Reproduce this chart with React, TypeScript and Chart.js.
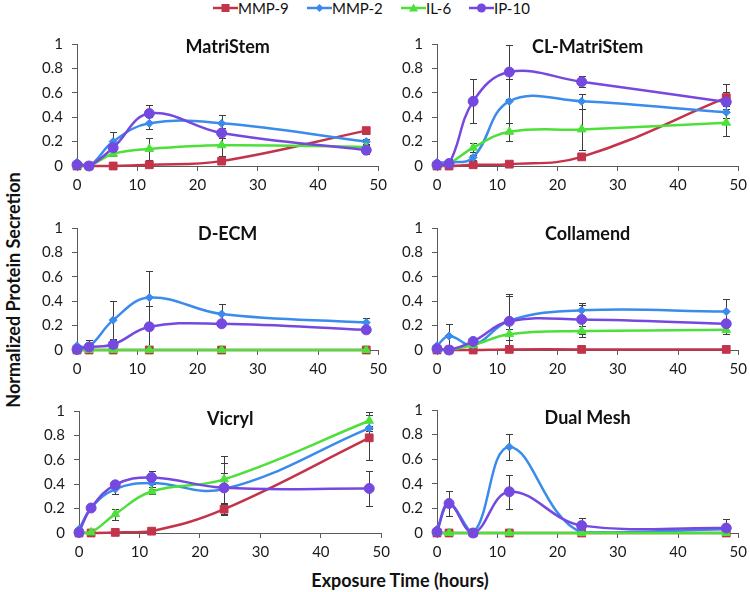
import React, { useEffect, useRef } from 'react';
import { Chart, registerables } from 'chart.js';
Chart.register(...registerables);

// ---------- data ----------
const hours = [0, 2, 6, 12, 24, 48];
const seriesNames = ['MMP-9', 'MMP-2', 'IL-6', 'IP-10'];
const panelTitles = ['MatriStem', 'CL-MatriStem', 'D-ECM', 'Collamend', 'Vicryl', 'Dual Mesh'];
const xTickValues = [0, 10, 20, 30, 40, 50];
const yTickValues = [0, 0.2, 0.4, 0.6, 0.8, 1];
const xAxisTitle = 'Exposure Time (hours)';
const yAxisTitle = 'Normalized Protein Secretion';

// MatriStem
const matriStemMMP9 = [0, 0, 0, 0.01, 0.04, 0.29];
const matriStemMMP2 = [0.03, 0, 0.2, 0.35, 0.35, 0.2];
const matriStemIL6 = [0, 0, 0.1, 0.14, 0.17, 0.155];
const matriStemIP10 = [0.01, 0, 0.15, 0.43, 0.27, 0.13];
const matriStemMMP9Err = [0, 0, 0, 0, 0, 0.02];
const matriStemMMP2Err = [0, 0, 0.08, 0.05, 0.07, 0.02];
const matriStemIL6Err = [0, 0, 0.02, 0.09, 0.09, 0.02];
const matriStemIP10Err = [0, 0, 0.03, 0.07, 0.04, 0.03];

// CL-MatriStem
const clMatriStemMMP9 = [0, 0, 0.01, 0.015, 0.075, 0.56];
const clMatriStemMMP2 = [0.03, 0.03, 0.07, 0.53, 0.53, 0.44];
const clMatriStemIL6 = [0, 0.02, 0.15, 0.28, 0.3, 0.355];
const clMatriStemIP10 = [0.01, 0.02, 0.53, 0.77, 0.69, 0.525];
const clMatriStemMMP9Err = [0, 0, 0, 0, 0, 0.11];
const clMatriStemMMP2Err = [0, 0.03, 0.02, 0.18, 0.06, 0.05];
const clMatriStemIL6Err = [0, 0, 0.035, 0.075, 0.165, 0.11];
const clMatriStemIP10Err = [0, 0.02, 0.18, 0.22, 0.045, 0.085];

// D-ECM
const decmMMP9 = [0, 0, 0, 0, 0, 0];
const decmMMP2 = [0.035, 0.03, 0.245, 0.43, 0.295, 0.225];
const decmIL6 = [0, 0, 0, 0, 0, 0];
const decmIP10 = [0.005, 0.025, 0.045, 0.19, 0.215, 0.165];
const decmMMP9Err = [0, 0, 0, 0, 0, 0];
const decmMMP2Err = [0, 0.05, 0.155, 0.22, 0.085, 0.04];
const decmIL6Err = [0, 0, 0, 0, 0, 0];
const decmIP10Err = [0, 0.02, 0.04, 0.17, 0.02, 0.01];

// Collamend
const collamendMMP9 = [0, 0, 0, 0.005, 0.005, 0.005];
const collamendMMP2 = [0.035, 0.115, 0.04, 0.24, 0.325, 0.315];
const collamendIL6 = [0, 0, 0.04, 0.13, 0.155, 0.165];
const collamendIP10 = [0.01, 0, 0.07, 0.235, 0.25, 0.215];
const collamendMMP9Err = [0, 0, 0, 0, 0, 0];
const collamendMMP2Err = [0, 0.095, 0.02, 0.22, 0.06, 0.105];
const collamendIL6Err = [0, 0, 0.01, 0.045, 0.045, 0.035];
const collamendIP10Err = [0, 0, 0.01, 0.21, 0.115, 0.03];

// Vicryl
const vicrylMMP9 = [0, 0, 0.005, 0.015, 0.195, 0.78];
const vicrylMMP2 = [0.03, 0.205, 0.36, 0.41, 0.36, 0.86];
const vicrylIL6 = [0, 0.005, 0.155, 0.34, 0.44, 0.92];
const vicrylIP10 = [0.005, 0.205, 0.395, 0.455, 0.37, 0.365];
const vicrylMMP9Err = [0, 0, 0, 0.01, 0.04, 0.185];
const vicrylMMP2Err = [0, 0.01, 0.04, 0.03, 0.21, 0.02];
const vicrylIL6Err = [0, 0, 0.045, 0.02, 0.195, 0.07];
const vicrylIP10Err = [0, 0.01, 0.02, 0.055, 0.12, 0.14];

// Dual Mesh
const dualMeshMMP9 = [0, 0, 0, 0, 0, 0];
const dualMeshMMP2 = [0.03, 0.24, 0, 0.7, 0.005, 0.03];
const dualMeshIL6 = [0, 0, 0, 0, 0, 0];
const dualMeshIP10 = [0.01, 0.24, 0, 0.335, 0.06, 0.04];
const dualMeshMMP9Err = [0, 0, 0, 0, 0, 0];
const dualMeshMMP2Err = [0, 0.1, 0, 0.105, 0, 0];
const dualMeshIL6Err = [0, 0, 0, 0, 0, 0];
const dualMeshIP10Err = [0, 0.1, 0, 0.14, 0.06, 0.075];

const panelValues = [
  [matriStemMMP9, matriStemMMP2, matriStemIL6, matriStemIP10],
  [clMatriStemMMP9, clMatriStemMMP2, clMatriStemIL6, clMatriStemIP10],
  [decmMMP9, decmMMP2, decmIL6, decmIP10],
  [collamendMMP9, collamendMMP2, collamendIL6, collamendIP10],
  [vicrylMMP9, vicrylMMP2, vicrylIL6, vicrylIP10],
  [dualMeshMMP9, dualMeshMMP2, dualMeshIL6, dualMeshIP10],
];
const panelErrors = [
  [matriStemMMP9Err, matriStemMMP2Err, matriStemIL6Err, matriStemIP10Err],
  [clMatriStemMMP9Err, clMatriStemMMP2Err, clMatriStemIL6Err, clMatriStemIP10Err],
  [decmMMP9Err, decmMMP2Err, decmIL6Err, decmIP10Err],
  [collamendMMP9Err, collamendMMP2Err, collamendIL6Err, collamendIP10Err],
  [vicrylMMP9Err, vicrylMMP2Err, vicrylIL6Err, vicrylIP10Err],
  [dualMeshMMP9Err, dualMeshMMP2Err, dualMeshIL6Err, dualMeshIP10Err],
];

// ---------- styles / layout ----------
const FONT = 'Lato, "Open Sans", sans-serif';
const seriesColors = ['#C3344B', '#3A8BEB', '#4EE03A', '#7549E0'];
const seriesMarkers = ['rect', 'rectRot', 'triangle', 'circle'];
const markerRadius = [5.5, 4, 5, 5];
const drawOrder = [4, 3, 2, 1];
const AXIS_COLOR = '#5a5a5a';
const TICK_COLOR = '#1a1a1a';
const Y_AXIS_W = 40;
const X_AXIS_H = 30;
const PAD_T = 10;
const PAD_R = 12;
// chart areas (plot rectangles) of the six panels
const panelAreas = [
  { l: 77, t: 36, r: 380, b: 166, titleDy: 3 },
  { l: 437, t: 36, r: 740, b: 166, titleDy: 3 },
  { l: 77, t: 220, r: 380, b: 350, titleDy: 6 },
  { l: 437, t: 220, r: 740, b: 350, titleDy: 6 },
  { l: 79, t: 403, r: 383, b: 533, titleDy: 8 },
  { l: 437, t: 402, r: 740, b: 533, titleDy: 8 },
];
const legendLeft = [213, 307, 401, 469];

const errorBarPlugin = {
  id: 'errorBars',
  beforeDatasetsDraw(chart: any) {
    const { ctx, chartArea } = chart;
    const xs = chart.scales.x;
    const ys = chart.scales.y;
    ctx.save();
    ctx.beginPath();
    ctx.rect(chartArea.left - 5, chartArea.top - 5, chartArea.right - chartArea.left + 10, chartArea.bottom - chartArea.top + 5);
    ctx.clip();
    ctx.strokeStyle = '#3c3c3c';
    ctx.lineWidth = 1;
    chart.data.datasets.forEach((ds: any) => {
      const errs: number[] = ds.errors || [];
      ds.data.forEach((p: any, i: number) => {
        const e = errs[i];
        if (!e) return;
        const x = Math.round(xs.getPixelForValue(p.x)) + 0.5;
        const yTop = Math.round(ys.getPixelForValue(p.y + e)) + 0.5;
        const lowVal = p.y - e;
        const yBot = Math.round(ys.getPixelForValue(Math.max(0, lowVal))) + 0.5;
        ctx.beginPath();
        ctx.moveTo(x, yTop);
        ctx.lineTo(x, yBot);
        ctx.moveTo(x - 3.5, yTop);
        ctx.lineTo(x + 3.5, yTop);
        if (lowVal >= 0) {
          ctx.moveTo(x - 3.5, yBot);
          ctx.lineTo(x + 3.5, yBot);
        }
        ctx.stroke();
      });
    });
    ctx.restore();
  },
};

const panelTitlePlugin = {
  id: 'panelTitle',
  afterDraw(chart: any, _args: any, opts: any) {
    const { ctx, chartArea } = chart;
    ctx.save();
    ctx.font = `bold 18px ${FONT}`;
    ctx.fillStyle = '#111';
    ctx.textAlign = 'center';
    ctx.textBaseline = 'middle';
    ctx.fillText(opts.text, (chartArea.left + chartArea.right) / 2, chartArea.top + opts.dy);
    ctx.restore();
  },
};

function buildConfig(idx: number): any {
  const values = panelValues[idx];
  const errors = panelErrors[idx];
  const datasets = seriesNames.map((name, s) => ({
    label: name,
    data: hours.map((h, i) => ({ x: h, y: values[s][i] })),
    errors: errors[s],
    borderColor: seriesColors[s],
    backgroundColor: seriesColors[s],
    pointBackgroundColor: seriesColors[s],
    pointBorderColor: seriesColors[s],
    pointBorderWidth: 1,
    pointStyle: seriesMarkers[s],
    pointRadius: markerRadius[s],
    borderWidth: 2.5,
    tension: 0.4,
    fill: false,
    clip: 8,
    order: drawOrder[s],
  }));
  const axisCommon = {
    type: 'linear',
    border: { display: true, color: AXIS_COLOR, width: 1 },
    grid: { display: true, drawOnChartArea: false, drawTicks: true, tickLength: 5, color: AXIS_COLOR },
  };
  return {
    type: 'line',
    data: { datasets },
    plugins: [errorBarPlugin, panelTitlePlugin],
    options: {
      responsive: false,
      animation: false,
      events: [],
      layout: { padding: { left: 0, top: PAD_T, right: PAD_R, bottom: 0 } },
      plugins: {
        legend: { display: false },
        tooltip: { enabled: false },
        panelTitle: { text: panelTitles[idx], dy: panelAreas[idx].titleDy },
      },
      scales: {
        x: {
          ...axisCommon,
          min: 0,
          max: 50,
          afterBuildTicks: (s: any) => {
            s.ticks = xTickValues.map((v) => ({ value: v }));
          },
          afterFit: (s: any) => {
            s.height = X_AXIS_H;
          },
          ticks: { color: TICK_COLOR, font: { family: FONT, size: 15 }, padding: 5, maxRotation: 0 },
        },
        y: {
          ...axisCommon,
          min: 0,
          max: 1,
          afterBuildTicks: (s: any) => {
            s.ticks = yTickValues.map((v) => ({ value: v }));
          },
          afterFit: (s: any) => {
            s.width = Y_AXIS_W;
          },
          ticks: {
            color: TICK_COLOR,
            font: { family: FONT, size: 15 },
            padding: 9,
            callback: (v: any) => String(Math.round(v * 10) / 10),
          },
        },
      },
    },
  };
}

function Panel({ idx }: { idx: number }) {
  const ref = useRef<HTMLCanvasElement>(null);
  const a = panelAreas[idx];
  const w = a.r - a.l + Y_AXIS_W + PAD_R;
  const h = a.b - a.t + PAD_T + X_AXIS_H;
  useEffect(() => {
    const chart = new Chart(ref.current as HTMLCanvasElement, buildConfig(idx));
    return () => chart.destroy();
  }, [idx]);
  return (
    <canvas
      ref={ref}
      width={w}
      height={h}
      style={{ position: 'absolute', left: a.l - Y_AXIS_W, top: a.t - PAD_T, width: w, height: h }}
    />
  );
}

function LegendIcon({ s }: { s: number }) {
  const c = seriesColors[s];
  const cx = 12.5;
  const cy = 7;
  let marker: any = null;
  if (seriesMarkers[s] === 'rect') marker = <rect x={cx - 4} y={cy - 4} width={8} height={8} fill={c} />;
  else if (seriesMarkers[s] === 'rectRot')
    marker = <polygon points={`${cx},${cy - 4} ${cx + 4},${cy} ${cx},${cy + 4} ${cx - 4},${cy}`} fill={c} />;
  else if (seriesMarkers[s] === 'triangle')
    marker = <polygon points={`${cx},${cy - 4.5} ${cx + 4.5},${cy + 3.5} ${cx - 4.5},${cy + 3.5}`} fill={c} />;
  else marker = <circle cx={cx} cy={cy} r={4.5} fill={c} />;
  return (
    <svg width={25} height={14} style={{ display: 'block' }}>
      <line x1={0} y1={cy} x2={25} y2={cy} stroke={c} strokeWidth={2.5} />
      {marker}
    </svg>
  );
}

export default function App() {
  return (
    <div
      style={{
        position: 'fixed',
        left: 0,
        top: 0,
        width: 750,
        height: 592,
        background: '#fff',
        overflow: 'hidden',
        fontFamily: FONT,
      }}
    >
      {seriesNames.map((name, s) => (
        <div
          key={name}
          style={{
            position: 'absolute',
            left: legendLeft[s],
            top: 0,
            height: 16,
            display: 'flex',
            alignItems: 'center',
            whiteSpace: 'nowrap',
          }}
        >
          <LegendIcon s={s} />
          <span style={{ fontSize: 15, color: '#111', lineHeight: '16px', marginLeft: 0 }}>{name}</span>
        </div>
      ))}
      {panelTitles.map((_, i) => (
        <Panel key={i} idx={i} />
      ))}
      <div
        style={{
          position: 'absolute',
          left: 13 - 160,
          top: 290 - 11,
          width: 320,
          height: 22,
          lineHeight: '22px',
          textAlign: 'center',
          transform: 'rotate(-90deg)',
          fontWeight: 'bold',
          fontSize: 18,
          color: '#111',
          whiteSpace: 'nowrap',
        }}
      >
        {yAxisTitle}
      </div>
      <div
        style={{
          position: 'absolute',
          left: 400 - 160,
          top: 580 - 11,
          width: 320,
          height: 22,
          lineHeight: '22px',
          textAlign: 'center',
          fontWeight: 'bold',
          fontSize: 18,
          color: '#111',
          whiteSpace: 'nowrap',
        }}
      >
        {xAxisTitle}
      </div>
    </div>
  );
}
